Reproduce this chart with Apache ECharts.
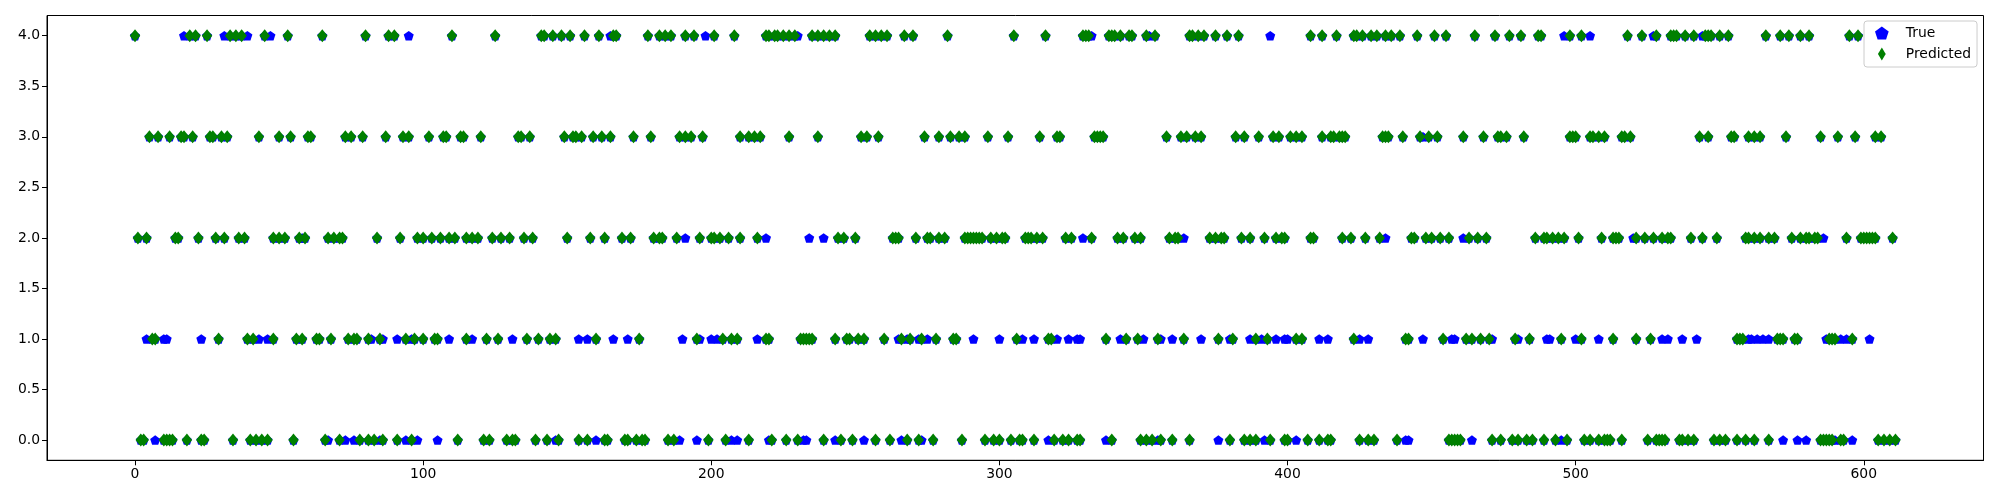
<!DOCTYPE html>
<html>
<head>
<meta charset="utf-8">
<script src="https://cdn.jsdelivr.net/npm/echarts@6/dist/echarts.min.js"></script>
<style>
html,body{margin:0;padding:0;background:#fff;}
#chart{width:2000px;height:500px;}
</style>
</head>
<body>
<div id="chart"></div>
<script>
// Tick labels
const xTicks = [0, 100, 200, 300, 400, 500, 600];
const yTicks = [0, 0.5, 1, 1.5, 2, 2.5, 3, 3.5, 4];
const classes = [0, 1, 2, 3, 4];

// Predicted class: sample indices predicted as each class (green diamonds)
const pred0 = [2,3,10,11,12,13,18,23,24,34,40,42,44,46,55,66,71,78,81,83,86,91,96,112,121,123,129,131,132,139,143,147,154,157,163,164,170,171,174,176,177,185,187,199,205,213,221,226,230,239,245,249,257,262,268,272,277,287,295,298,300,304,307,308,312,319,322,324,327,328,339,349,351,353,356,360,366,380,385,387,389,394,399,400,407,411,414,415,425,428,430,438,456,457,458,459,460,471,474,478,480,483,485,489,493,497,503,505,508,510,511,512,516,525,528,529,530,531,536,537,539,541,548,550,552,556,559,562,567,585,586,587,588,589,592,593,605,607,609,611];
const pred1 = [6,7,29,39,41,48,56,58,63,64,68,74,76,77,81,85,94,97,100,104,105,115,122,126,136,140,144,146,160,175,195,204,207,209,219,220,231,232,233,234,235,243,247,248,251,253,260,266,269,273,278,284,285,306,317,318,337,344,348,355,364,376,381,389,393,403,405,423,441,442,454,462,464,467,470,479,484,495,502,513,521,526,556,557,558,570,571,572,576,577,588,589,590,596];
const pred2 = [1,4,14,15,22,28,31,36,38,48,50,52,57,59,67,69,71,72,84,92,98,100,103,106,109,111,115,117,119,124,127,130,135,138,150,158,163,169,172,180,182,183,188,196,200,201,203,206,210,216,244,246,250,263,264,265,271,275,276,279,281,288,289,290,291,292,293,294,297,299,301,302,309,310,311,313,315,323,325,332,341,343,347,349,359,361,362,373,375,377,378,384,387,392,396,398,399,408,409,419,422,427,432,443,444,448,450,453,456,463,466,469,486,489,490,492,494,496,501,509,513,514,515,521,524,527,530,532,533,540,544,549,559,560,562,564,567,569,575,578,580,581,583,584,594,599,600,601,602,603,604,610];
const pred3 = [5,8,12,16,17,20,26,27,30,32,43,50,54,60,61,73,75,79,87,93,95,102,107,108,113,114,120,133,134,137,149,152,153,155,159,162,165,173,179,189,191,193,197,210,213,215,217,227,237,252,254,258,274,279,283,286,288,296,303,314,320,321,333,334,335,336,358,363,365,368,370,382,385,390,395,397,401,403,405,412,415,416,418,419,420,433,434,435,440,446,449,452,461,468,473,474,476,482,498,499,500,505,506,508,510,516,517,519,543,546,554,555,560,562,564,573,585,591,597,604,606];
const pred4 = [0,19,21,25,33,35,37,45,53,65,80,88,90,110,125,141,142,145,148,151,156,161,166,167,178,182,184,186,191,194,201,208,219,220,222,223,225,227,229,235,237,239,241,243,255,257,259,261,267,270,282,305,316,329,330,331,338,339,340,342,345,346,351,354,366,367,369,371,375,379,383,408,412,417,423,424,426,429,431,434,436,439,445,451,455,465,472,477,481,487,488,498,502,518,523,528,533,534,535,538,541,545,546,547,550,553,566,571,574,578,581,595,598];

// True class where it differs from the prediction (blue pentagons left visible)
const trueOnly0 = [7,67,73,76,85,94,98,105,146,160,189,195,207,209,220,232,233,243,253,266,273,317,337,355,376,392,403,441,442,464,495,572,577,580,590,596];
const trueOnly1 = [4,10,11,23,43,46,82,86,91,96,109,117,131,154,157,166,171,190,196,200,202,216,265,268,272,275,291,300,308,312,320,324,327,328,342,350,356,360,370,380,387,391,396,399,400,411,414,425,428,447,457,458,471,480,490,491,500,508,530,532,537,542,560,561,563,565,567,587,592,594,602];
const trueOnly2 = [58,191,219,234,239,329,364,434,461,520,586];
const trueOnly3 = [447];
const trueOnly4 = [17,31,39,47,95,165,198,230,332,352,394,496,505,527,544];

const predRows = [pred0, pred1, pred2, pred3, pred4];
const trueOnlyRows = [trueOnly0, trueOnly1, trueOnly2, trueOnly3, trueOnly4];

const predData = [];
const trueData = [];
classes.forEach(function (c) {
  predRows[c].forEach(function (x) { predData.push([x, c]); trueData.push([x, c]); });
  trueOnlyRows[c].forEach(function (x) { trueData.push([x, c]); });
});

const pentagon = 'path://M0,-1L0.951,-0.309L0.588,0.809L-0.588,0.809L-0.951,-0.309Z';
const thinDiamond = 'path://M0,-1L0.6,0L0,1L-0.6,0Z';
const font = 'DejaVu Sans';

const chart = echarts.init(document.getElementById('chart'), null, {renderer: 'canvas'});
chart.setOption({
  animation: false,
  backgroundColor: '#ffffff',
  grid: {
    left: 47, right: 16.5, top: 15.5, bottom: 39.7,
    show: true, borderColor: '#000', borderWidth: 1, backgroundColor: 'transparent'
  },
  legend: {
    left: 1864, top: 21, orient: 'vertical',
    data: [{name: 'True', icon: pentagon}, {name: 'Predicted', icon: thinDiamond}],
    itemWidth: 14, itemHeight: 13, itemGap: 7, symbolKeepAspect: true,
    padding: [5, 6, 6, 11],
    backgroundColor: 'rgba(255,255,255,0.8)', borderColor: '#cccccc', borderWidth: 1, borderRadius: 3,
    textStyle: {fontFamily: font, fontSize: 13.9, color: '#000', padding: [0, 0, 0, 12]}
  },
  xAxis: {
    type: 'value', min: -30.55, max: 641.55,
    axisLine: {show: true, onZero: false, lineStyle: {color: '#000', width: 1}},
    axisTick: {show: true, length: 5, inside: false, customValues: xTicks, lineStyle: {color: '#000'}},
    axisLabel: {show: true, customValues: xTicks, margin: 7, fontFamily: font, fontSize: 13.9, color: '#000'},
    splitLine: {show: false}
  },
  yAxis: {
    type: 'value', min: -0.2, max: 4.2,
    axisLine: {show: true, onZero: false, lineStyle: {color: '#000', width: 1}},
    axisTick: {show: true, length: 5, inside: false, customValues: yTicks, lineStyle: {color: '#000'}},
    axisLabel: {show: true, customValues: yTicks, margin: 7, fontFamily: font, fontSize: 13.9, color: '#000',
      formatter: function (v) { return Number(v).toFixed(1); }},
    splitLine: {show: false}
  },
  series: [
    {
      name: 'True', type: 'scatter', data: trueData,
      symbol: pentagon, symbolSize: [10, 9.5],
      itemStyle: {color: '#0000ff', opacity: 1}, z: 2
    },
    {
      name: 'Predicted', type: 'scatter', data: predData,
      symbol: thinDiamond, symbolSize: [10.5, 13],
      itemStyle: {color: '#008000', opacity: 1}, z: 3
    }
  ]
});
</script>
</body>
</html>
